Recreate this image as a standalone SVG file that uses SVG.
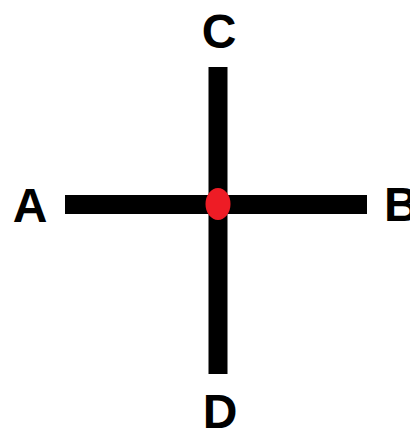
<svg xmlns="http://www.w3.org/2000/svg" width="410" height="430" viewBox="0 0 410 430">
<style>
.lbl{font-family:"Liberation Sans",Arial,sans-serif;font-weight:bold;font-size:48px;fill:#000}
.bar{stroke:#000;stroke-width:19;fill:none}
</style>
<rect width="410" height="430" fill="#fff"/>
<g id="connectors">
<line class="bar" x1="65" y1="204.5" x2="367" y2="204.5"/>
<line class="bar" x1="218" y1="67" x2="218" y2="374"/>
</g>
<g id="center"><ellipse cx="218" cy="204" rx="12.5" ry="16" fill="#ee1c25"/></g>
<g id="A"><text class="lbl" x="30" y="222" text-anchor="middle">A</text></g>
<g id="B"><text class="lbl" x="384" y="221">B</text></g>
<g id="C"><text class="lbl" x="219" y="48" text-anchor="middle">C</text></g>
<g id="D"><text class="lbl" x="220" y="428" text-anchor="middle">D</text></g>
</svg>
